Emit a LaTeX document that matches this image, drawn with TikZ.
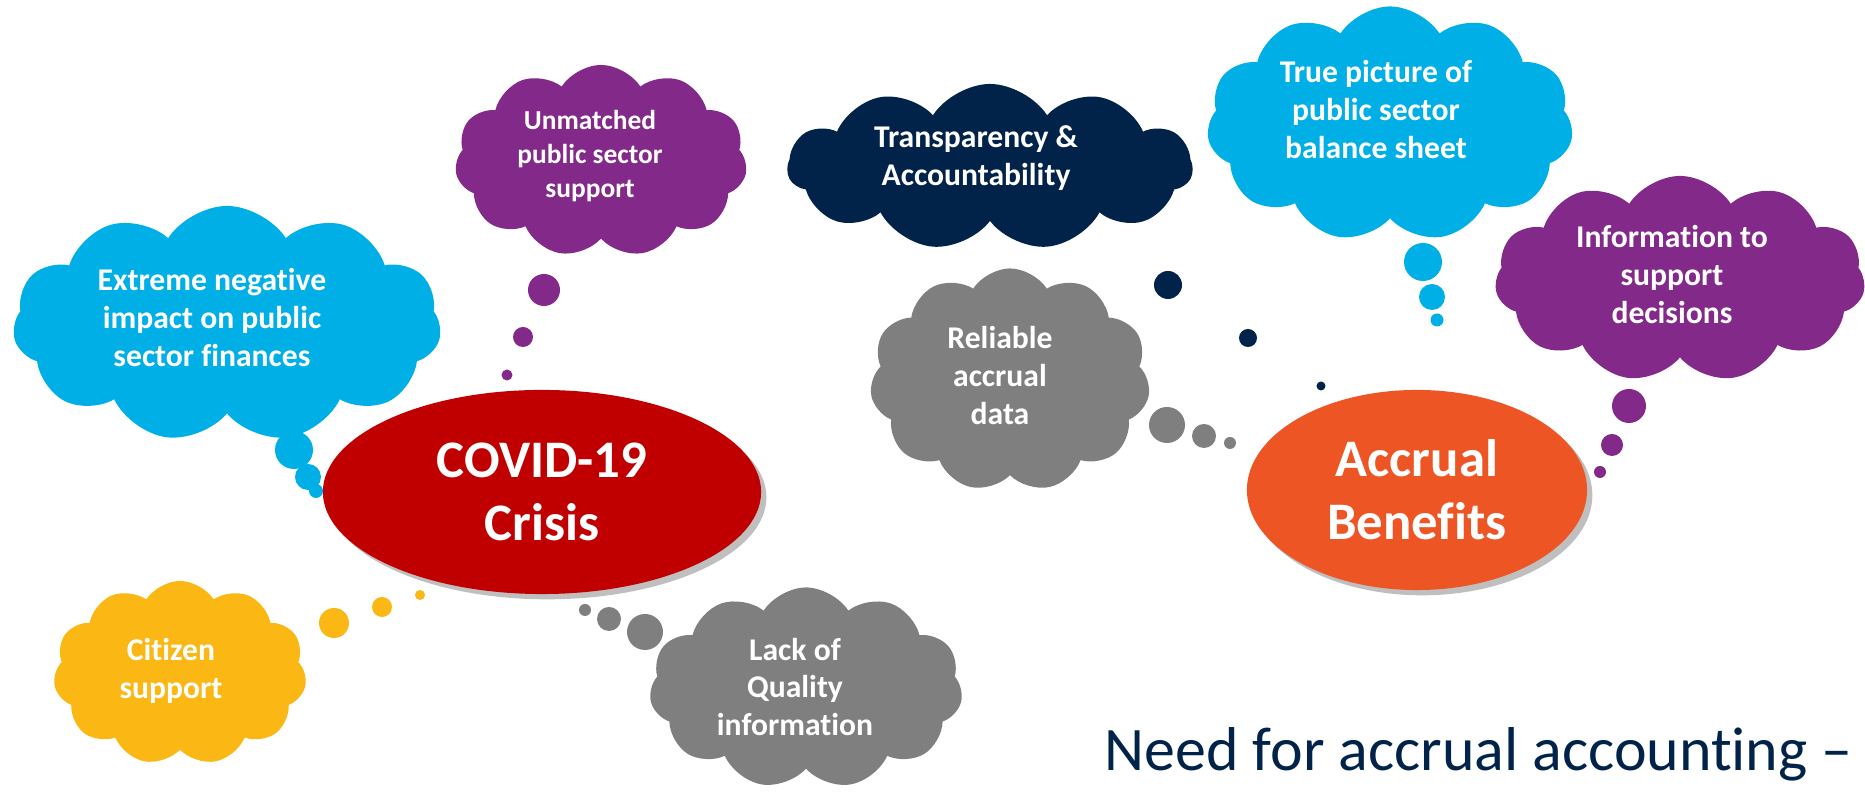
\documentclass[tikz,border=0pt]{standalone}
\usepackage{fontspec}
\setmainfont[Ligatures={TeX,NoCommon}]{Carlito}
\usetikzlibrary{shapes.symbols,shapes.geometric,shadows}

\definecolor{skyblue}{HTML}{00AFE5}
\definecolor{plum}{HTML}{83298A}
\definecolor{gold}{HTML}{FBB713}
\definecolor{stone}{HTML}{7F7F7F}
\definecolor{navy}{HTML}{01234A}
\definecolor{crisisred}{HTML}{C00000}
\definecolor{benefitorange}{HTML}{EE5524}

\tikzset{
    bubble/.style={cloud, cloud puffs=11, cloud puff arc=115, cloud ignores aspect, inner sep=0pt},
    bubbletext/.style={text=white, font=\bfseries\fontsize{9}{10.8}\selectfont, align=center, inner sep=0pt},
    hub/.style={ellipse, inner sep=0pt, text=white, font=\bfseries\fontsize{15}{18}\selectfont, align=center,
        drop shadow={shadow xshift=1.5pt, shadow yshift=-1.5pt, opacity=0.25, fill=black}},
}

\begin{document}
\begin{tikzpicture}[x=0.01cm, y=-0.01cm]
    \useasboundingbox (0,0) rectangle (1865,792);

    % thought clouds round the crisis
    \node[bubble, fill=skyblue, minimum width=4.28cm, minimum height=2.36cm] (impact) at (227,324) {};
    \node[bubbletext] (impact text) at (212,318) {Extreme negative\\impact on public\\sector finances};
    \node[bubble, fill=plum, minimum width=2.92cm, minimum height=1.92cm] (unmatched) at (601,161) {};
    \node[bubbletext, font=\bfseries\fontsize{7.8}{9.7}\selectfont] (unmatched text) at (590,156) {Unmatched\\public sector\\support};
    \node[bubble, fill=gold, minimum width=2.53cm, minimum height=1.84cm] (citizen) at (180,673) {};
    \node[bubbletext] (citizen text) at (171,671) {Citizen\\support};
    \node[bubble, fill=stone, minimum width=3.13cm, minimum height=2.01cm] (lack) at (806,688) {};
    \node[bubbletext] (lack text) at (795,687) {Lack of\\Quality\\information};

    % thought clouds round the benefits
    \node[bubble, fill=navy, minimum width=4.05cm, minimum height=1.66cm] (transparency) at (990,167) {};
    \node[bubbletext] (transparency text) at (976,158) {Transparency \&\\Accountability};
    \node[bubble, fill=skyblue, minimum width=3.66cm, minimum height=2.35cm] (truepicture) at (1390,124) {};
    \node[bubbletext] (truepicture text) at (1376,110) {True picture of\\public sector\\balance sheet};
    \node[bubble, fill=stone, minimum width=2.80cm, minimum height=2.23cm] (reliable) at (1010,380) {};
    \node[bubbletext] (reliable text) at (1000,376) {Reliable\\accrual\\data};
    \node[bubble, fill=plum, minimum width=3.70cm, minimum height=2.06cm] (decisions) at (1680,279) {};
    \node[bubbletext] (decisions text) at (1672,275) {Information to\\support\\decisions};

    % bubble tails
    \foreach \x/\y/\r in {294/450/19, 308/477/13, 316/491/7, 1423/262/19, 1432/297/13, 1437/320/6.5}
        \fill[skyblue] (\x,\y) circle (\r);
    \foreach \x/\y/\r in {544/290/16, 523/337/10, 507/375/5.5, 1629/406/17, 1612/445/11, 1600/472/6}
        \fill[plum] (\x,\y) circle (\r);
    \foreach \x/\y/\r in {334/623/15, 382/607/10, 420/595/5}
        \fill[gold] (\x,\y) circle (\r);
    \foreach \x/\y/\r in {645/632/18, 609/619/12, 585/610/6, 1167/425/18, 1204/436/12, 1230/443/6}
        \fill[stone] (\x,\y) circle (\r);
    \foreach \x/\y/\r in {1168/285/14, 1248/338/9, 1321/386/4.5}
        \fill[navy] (\x,\y) circle (\r);

    % the two hubs
    \node[hub, fill=crisisred, minimum width=4.38cm, minimum height=2.04cm] (crisis) at (542,492) {COVID-19\\Crisis};
    \node[hub, fill=benefitorange, minimum width=3.40cm, minimum height=2.00cm] (benefits) at (1417,490) {Accrual\\Benefits};

    \node[anchor=base west, inner sep=0pt, text=navy, font=\fontsize{17.6}{21}\selectfont] (title) at (1104,771) {Need for accrual accounting \textendash};
\end{tikzpicture}
\end{document}
